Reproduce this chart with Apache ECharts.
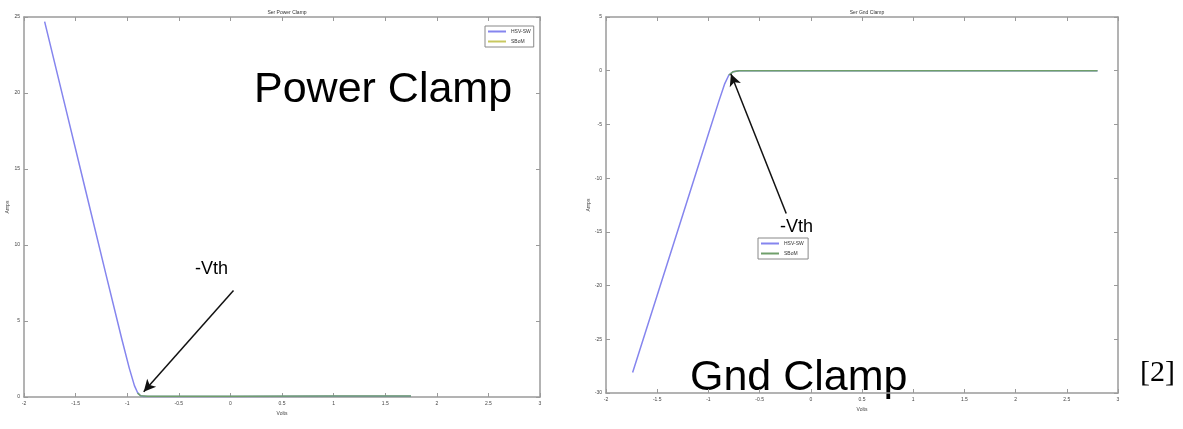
<!DOCTYPE html>
<html><head><meta charset="utf-8">
<script src="https://cdn.jsdelivr.net/npm/echarts@6/dist/echarts.min.js"></script>
<style>html,body{margin:0;padding:0;background:#fff}#c{width:1183px;height:429px}</style>
</head><body><div id="c"></div>
<script>
const leftTitle = 'Ser Power Clamp';
const rightTitle = 'Ser Gnd Clamp';
const legendNames = ['HSV-SW', 'SBoM'];
const xTicks = { min: -2, max: 3, interval: 0.5 };
const leftYTicks = { min: 0, max: 25, interval: 5 };
const rightYTicks = { min: -30, max: 5, interval: 5 };

const leftHsvX = [-1.8, -1.6, -1.4, -1.2, -1.05, -0.98, -0.93, -0.9, -0.87, -0.84, -0.8, 0, 1, 1.75];
const leftHsvY = [24.7, 19.1, 13.5, 7.9, 3.75, 1.9, 0.75, 0.3, 0.08, 0.04, 0.03, 0.03, 0.05, 0.05];
const leftSimX = [-0.9, -0.87, -0.8, 0, 1, 1.5, 1.75];
const leftSimY = [0.25, 0.08, 0.05, 0.05, 0.06, 0.06, 0.06];

const rightHsvX = [-1.74, -1.5, -1.25, -1.0, -0.9, -0.84, -0.8, -0.76, -0.7, 0, 1, 2, 2.8];
const rightHsvY = [-28.1, -20.9, -13.4, -5.9, -2.9, -1.2, -0.4, -0.1, 0, 0, 0, 0, 0];
const rightSimX = [-0.8, -0.76, -0.7, 0, 1, 2, 2.8];
const rightSimY = [-0.4, -0.1, 0, 0, 0, 0, 0];

// annotation arrows (data coordinates): [fromX, fromY, toX, toY]
const leftArrow = [0.03, 7.0, -0.84, 0.35];
const rightArrow = [-0.24, -13.3, -0.78, -0.3];

const zip = (xs, ys) => xs.map((x, i) => [x, ys[i]]);
const blue = '#8585ee', green = '#6f9f6a', axisCol = '#9a9a9a', lblCol = '#444';
const FONT = 'Liberation Sans';

function xAxes(gi) {
  return [
    { gridIndex: gi, type: 'value', min: xTicks.min, max: xTicks.max, interval: xTicks.interval,
      name: 'Volts', nameLocation: 'middle', nameGap: 13, nameTextStyle: { fontSize: 5, color: lblCol, fontFamily: FONT },
      axisLine: { onZero: false, lineStyle: { color: axisCol, width: 1.5 } }, axisTick: { inside: true, length: 4, lineStyle: { color: axisCol } },
      axisLabel: { fontSize: 5, color: lblCol, margin: 4, fontFamily: FONT }, splitLine: { show: false } },
    { gridIndex: gi, type: 'value', position: 'top', min: xTicks.min, max: xTicks.max, interval: xTicks.interval,
      axisLine: { onZero: false, lineStyle: { color: axisCol, width: 1.5 } }, axisTick: { inside: true, length: 4, lineStyle: { color: axisCol } },
      axisLabel: { show: false }, splitLine: { show: false } }
  ];
}
function yAxes(gi, t) {
  return [
    { gridIndex: gi, type: 'value', min: t.min, max: t.max, interval: t.interval,
      name: 'Amps', nameLocation: 'middle', nameGap: 14, nameTextStyle: { fontSize: 5, color: lblCol, fontFamily: FONT },
      axisLine: { onZero: false, lineStyle: { color: axisCol, width: 1.5 } }, axisTick: { inside: true, length: 4, lineStyle: { color: axisCol } },
      axisLabel: { fontSize: 5, color: lblCol, margin: 4, fontFamily: FONT }, splitLine: { show: false } },
    { gridIndex: gi, type: 'value', position: 'right', min: t.min, max: t.max, interval: t.interval,
      axisLine: { onZero: false, lineStyle: { color: axisCol, width: 1.5 } }, axisTick: { inside: true, length: 4, lineStyle: { color: axisCol } },
      axisLabel: { show: false }, splitLine: { show: false } }
  ];
}
function arrowLine(a) {
  return {
    silent: true, symbol: ['none', 'arrow'], symbolSize: [9, 12],
    lineStyle: { color: '#111', width: 1.5, type: 'solid' }, label: { show: false },
    data: [[{ coord: [a[0], a[1]] }, { coord: [a[2], a[3]] }]]
  };
}
const lineBase = { type: 'line', showSymbol: false, symbol: 'none', smooth: false, animation: false };

const chart = echarts.init(document.getElementById('c'), null, { renderer: 'canvas' });
chart.setOption({
  backgroundColor: '#fff',
  animation: false,
  title: [
    { text: leftTitle, left: 282, top: 5, textAlign: 'center', textStyle: { fontSize: 5, fontWeight: 'normal', color: '#333', fontFamily: FONT } },
    { text: rightTitle, left: 862, top: 5, textAlign: 'center', textStyle: { fontSize: 5, fontWeight: 'normal', color: '#333', fontFamily: FONT } }
  ],
  legend: [
    { data: legendNames, left: 485, top: 26, orient: 'vertical', itemWidth: 18, itemHeight: 2, itemGap: 5,
      textStyle: { fontSize: 5, color: '#333', fontFamily: FONT }, backgroundColor: '#fff', borderColor: '#888', borderWidth: 1, padding: [3, 3],
      icon: 'rect', selectedMode: false },
    { data: legendNames.map(n => n + ' '), left: 758, top: 238, orient: 'vertical', itemWidth: 18, itemHeight: 2, itemGap: 5,
      textStyle: { fontSize: 5, color: '#333', fontFamily: FONT }, backgroundColor: '#fff', borderColor: '#888', borderWidth: 1, padding: [3, 3],
      icon: 'rect', selectedMode: false }
  ],
  grid: [
    { left: 24, right: 643, top: 17, bottom: 32 },
    { left: 606, right: 65, top: 17, bottom: 36 }
  ],
  xAxis: [...xAxes(0), ...xAxes(1)],
  yAxis: [...yAxes(0, leftYTicks), ...yAxes(1, rightYTicks)],
  series: [
    { ...lineBase, name: legendNames[0], xAxisIndex: 0, yAxisIndex: 0, data: zip(leftHsvX, leftHsvY), lineStyle: { color: blue, width: 1.5 }, itemStyle: { color: blue },
      markLine: arrowLine(leftArrow) },
    { ...lineBase, name: legendNames[1], xAxisIndex: 0, yAxisIndex: 0, data: zip(leftSimX, leftSimY), lineStyle: { color: green, width: 1.5 }, itemStyle: { color: '#c8c860' } },
    { ...lineBase, name: legendNames[0] + ' ', xAxisIndex: 2, yAxisIndex: 2, data: zip(rightHsvX, rightHsvY), lineStyle: { color: blue, width: 1.5 }, itemStyle: { color: blue },
      markLine: arrowLine(rightArrow) },
    { ...lineBase, name: legendNames[1] + ' ', xAxisIndex: 2, yAxisIndex: 2, data: zip(rightSimX, rightSimY), lineStyle: { color: green, width: 1.5 }, itemStyle: { color: green } }
  ],
  graphic: [
    { type: 'text', left: 254, top: 69, style: { text: 'Power Clamp', font: '43px "Liberation Sans"', fill: '#000' } },
    { type: 'text', left: 195, top: 260, style: { text: '-Vth', font: '18px "Liberation Sans"', fill: '#000' } },
    { type: 'text', left: 690, top: 357, style: { text: 'Gnd Clamp', font: '43px "Liberation Sans"', fill: '#000' } },
    { type: 'text', left: 780, top: 218, style: { text: '-Vth', font: '18px "Liberation Sans"', fill: '#000' } },
    { type: 'text', left: 1140, top: 358, style: { text: '[2]', font: '30px "Liberation Serif"', fill: '#000' } }
  ]
});
</script></body></html>
